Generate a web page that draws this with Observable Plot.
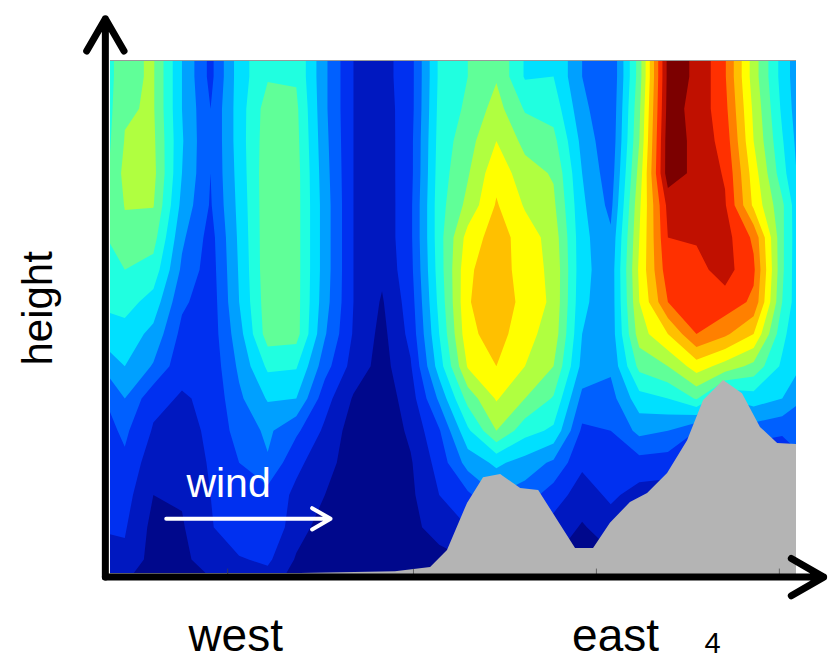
<!DOCTYPE html>
<html><head><meta charset="utf-8">
<script src="https://cdn.jsdelivr.net/npm/d3@7"></script>
<script src="https://cdn.jsdelivr.net/npm/@observablehq/plot@0.6"></script>
<style>html,body{margin:0;padding:0;background:#fff}svg{display:block}</style>
</head><body><div id="chart"></div>
<script>
const colL=[5.7,5.8,5.9,6.0,6.2,6.6,6.6,6.2,5.2,3.8,2.6,2.4,2.4,2.4,2.1,1.2];
const col00=[7.8,7.9,8.05,8.3,8.05,7.7,7.0,6.4,5.6,5,4,3.2,2.8,2.4,2.1,1.8];
const col01=[8.1,8.1,8.2,8.3,8.05,7.4,6.6,5.6,4.7,3.9,2.3,1.9,1.4,1.0,.7,.6];
const col02=[5,5,5.1,5,4.7,4.2,3.8,3.2,2.7,2.3,1.9,1.6,1.4,1.1,.9,.8];
const col03=[2.7,3,3,3,2.9,2.6,2.5,2.4,2.4,2.3,2.2,2.2,2.1,2.0,1.9,1.4];
const col04=[5.5,5.5,5.5,5.4,5.3,5.2,5.1,5,4.6,4.2,3.8,3.4,3,2.7,2.8,1.9];
const col05=[6.9,7.5,7.6,7.7,7.7,7.7,7.7,7.6,7.5,6.2,5.1,4.2,3.9,2.6,2.9,2.2];
const col06=[6.9,7.2,7.3,7.4,7.4,7.4,7.4,7.4,7.4,6.1,5,3.2,2.2,1.8,1.4,.9];
const col07=[4.2,4.2,4.3,4.4,4.5,4.5,4.5,4.4,4.1,3.4,2.4,1.8,1.5,1,.6,.5];
const col08=[2,2,2,2,2,2,2,2,1.9,1.6,.9,.5,.3,.2,.2,.2];
const col09=[1.6,1.5,1.4,1.4,1.3,1.3,1.2,.9,.7,.6,.4,.3,.3,.2,.2,.2];
const col10=[2.6,2.6,2.7,2.7,2.8,2.8,2.7,2.5,2.3,1.9,1.5,1.2,.9,.8,.6,.2];
const col11=[6.2,6.3,6.4,6.5,6.6,6.6,6.5,6.3,6,5.5,4.2,2.9,2.4,2,1.6,.5];
const col12=[7,7.2,7.6,7.9,8.3,9.4,9.8,9.9,9.7,9.1,7.4,5.8,4.4,2.8,2,1];
const col13=[7.9,8.4,9,9.7,10.1,10.5,10.7,10.8,10.5,10,9.1,8,5.2,4,3,2];
const col14=[5.9,6.9,7.7,8.4,8.9,9.5,9.4,9.6,9.3,9,8,6.4,4.6,3.5,3,2];
const col15=[6,6.6,7.3,7.9,8.2,8.6,8.8,8.8,8.6,8,6.9,5.8,3.8,2.5,1.6,1];
const col16=[4,4.3,4.7,5,5.2,5.3,5.3,5.2,5,4.7,3.7,2.8,2.2,1.5,.9,.5];
const col17=[3,3.1,3.2,3.4,3.7,4.2,4.4,4.4,4.4,4.2,3.6,3,2.6,2.2,1.5,.8];
const col18=[7.5,7.8,8,8.4,8.8,9,9.2,9,8.5,7.3,5.6,4.3,2.6,1.6,1,.8];
const col19=[14.3,14.4,14.6,14.6,13.3,13,12.6,12,10,8,6,4,2.5,1.5,1,1];
const col20=[13.9,13.7,13.7,13.7,13.4,13.1,12.7,12.3,12,9.5,7.1,3,2,2,2,2];
const col21=[12.1,12.3,12.6,12.9,13.1,13.4,13.4,12.6,11.2,8.6,5,3,2,2,2,2];
const col22=[8.5,8.8,9,9.5,9.8,11.8,12.2,11.8,10,7.7,5.5,3.5,2,2,2,2];
const col23=[5.6,5.8,6.1,6.4,7.2,7.2,7.2,7,6.3,5.8,5,3.2,2,1.5,1,1];
const colR=[3.4,3.4,3.5,3.6,3.7,3.8,3.7,4,4.3,4.6,3.8,3.4,3,2.5,3,3];
const rowBelow=[.6,.8,.4,.4,.7,1,1.2,.5,.2,.2,.2,.2,.2,.2,.2,.2,.2,.2,.2,.2,.2,.2,.2,.2,.2,.2];
const columns=[colL,col00,col01,col02,col03,col04,col05,col06,col07,col08,col09,col10,col11,col12,col13,col14,col15,col16,col17,col18,col19,col20,col21,col22,col23,colR];

const levels=[0,1,2,3,4,5,6,7,8,9,10,11,12,13,14];
const levelColors=["#00088c","#0018c0","#0030f0","#0060ff","#00a0ff","#00e0ff","#20ffe0","#60ff98","#b0ff40","#ffff00","#ffc000","#ff8000","#ff3000","#c01000","#7c0000"];

const terrainX=[0,6.65,9.97,11.2,11.79,12.49,13.05,13.65,14.35,14.98,16.27,16.9,17.49,18.19,18.79,19.49,20.19,20.75,21.45,22.11,22.74,23.34,24];
const terrainY=[.06,.06,.12,.25,.78,2.24,3.04,3.14,2.7,2.64,.84,.84,1.62,2.27,2.55,3.17,4.19,5.44,6.06,5.65,4.6,4.1,4.07];
const tickX=[4.1,10.6,17,23.4];

const nx=columns.length, rowCount=col00.length, ny=rowCount+2;
const grid=[];
for(let i=0;i<nx;i++) grid.push(columns[i][0]);
for(let j=0;j<rowCount;j++) for(let i=0;i<nx;i++) grid.push(columns[i][j]);
for(let i=0;i<nx;i++) grid.push(rowBelow[i]);
const terrain=terrainX.map((x,i)=>({x,y:terrainY[i]}));
const F="Liberation Sans, Arial, sans-serif";

const chart=Plot.plot({
  width:829,height:661,marginLeft:110,marginRight:33,marginTop:60,marginBottom:86,
  style:{background:"#fff",fontFamily:F},
  x:{domain:[0,24],axis:null},
  y:{domain:[0,16],axis:null},
  color:{type:"linear",domain:levels,range:levelColors},
  marks:[
    Plot.contour(grid,{width:nx,height:ny,x1:-1,x2:25,y1:17,y2:-1,thresholds:levels,fill:Plot.identity,stroke:"none",smooth:true,clip:true}),
    Plot.areaY(terrain,{x:"x",y:"y",fill:"#b4b4b4"}),
    Plot.ruleX(tickX,{y1:0,y2:.2,stroke:"#444",strokeWidth:.7}),
    Plot.ruleY([16],{stroke:"#999",strokeWidth:1}),
    Plot.arrow([{x1:-.18,y1:-.05,x2:24.95,y2:-.05}],{x1:"x1",y1:"y1",x2:"x2",y2:"y2",bend:0,stroke:"#000",strokeWidth:7,headLength:8,inset:0}),
    Plot.arrow([{x1:-.18,y1:-.05,x2:-.18,y2:17.3}],{x1:"x1",y1:"y1",x2:"x2",y2:"y2",bend:0,stroke:"#000",strokeWidth:7,headLength:8,inset:0}),
    Plot.arrow([{x1:1.95,y1:1.76,x2:7.7,y2:1.76}],{x1:"x1",y1:"y1",x2:"x2",y2:"y2",bend:0,stroke:"#fff",strokeWidth:4,headLength:8,inset:0}),
    Plot.text(["wind"],{x:[4.13],y:[2.85],fill:"#fff",fontSize:41,textAnchor:"middle"}),
    Plot.text(["west"],{x:[4.38],y:[-1.9],fill:"#000",fontSize:46,textAnchor:"middle"}),
    Plot.text(["east"],{x:[17.67],y:[-1.9],fill:"#000",fontSize:46,textAnchor:"middle"}),
    Plot.text(["4"],{x:[21.06],y:[-2.12],fill:"#000",fontSize:29,textAnchor:"middle"}),
    Plot.text(["height"],{x:[-2.5],y:[8.3],fill:"#000",fontSize:42,rotate:-90,textAnchor:"middle"})
  ]
});
document.getElementById("chart").append(chart);
</script></body></html>
